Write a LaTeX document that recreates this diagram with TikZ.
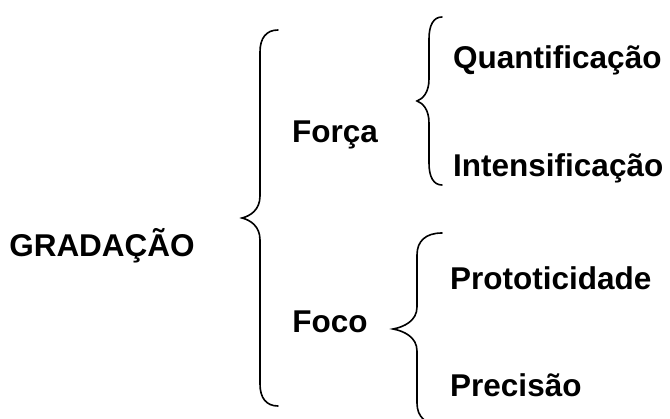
\documentclass[tikz,border=0pt]{standalone}
\usepackage{fontspec}
\setmainfont{Liberation Sans}
\usepackage{tikz}

\tikzset{
  rotulo/.style={font=\bfseries\fontsize{31.5}{38}\selectfont, inner sep=0pt},
  chave/.style={line width=1.6pt, line cap=round}
}

% chave: xponta, xlinha, xbico, ytopo, ybico, ybase
\newcommand{\chave}[6]{%
  \draw[chave] (#1,#4) .. controls ({#2+0.35*(#1-#2)},#4) and (#2,{#4+8}) .. (#2,{#4+22})
    -- (#2,{#5-22}) .. controls (#2,{#5-8}) and ({#3+0.45*(#2-#3)},{#5-2}) .. (#3,#5)
    .. controls ({#3+0.45*(#2-#3)},{#5+2}) and (#2,{#5+8}) .. (#2,{#5+22})
    -- (#2,{#6-22}) .. controls (#2,{#6-8}) and ({#2+0.35*(#1-#2)},#6) .. (#1,#6);}

\begin{document}
\begin{tikzpicture}[x=1pt, y=-1pt]
  \useasboundingbox (0,0) rectangle (670,419);
  \node[rotulo] (gradacao) at (102,246) {GRADAÇÃO};
  \node[rotulo] (forca) at (335,135) {Força};
  \node[rotulo] (foco) at (330,322) {Foco};
  \node[rotulo, anchor=west] (quant) at (453,60) {Quantificação};
  \node[rotulo, anchor=west] (intens) at (453,168) {Intensificação};
  \node[rotulo, anchor=west] (protot) at (450,278) {Prototicidade};
  \node[rotulo, anchor=west] (precisao) at (450,385) {Precisão};
  \chave{278}{260}{242}{30}{218}{406}
  \chave{442}{429}{417}{17}{101}{185}
  \chave{442}{417}{393}{233}{329}{425}
\end{tikzpicture}
\end{document}
